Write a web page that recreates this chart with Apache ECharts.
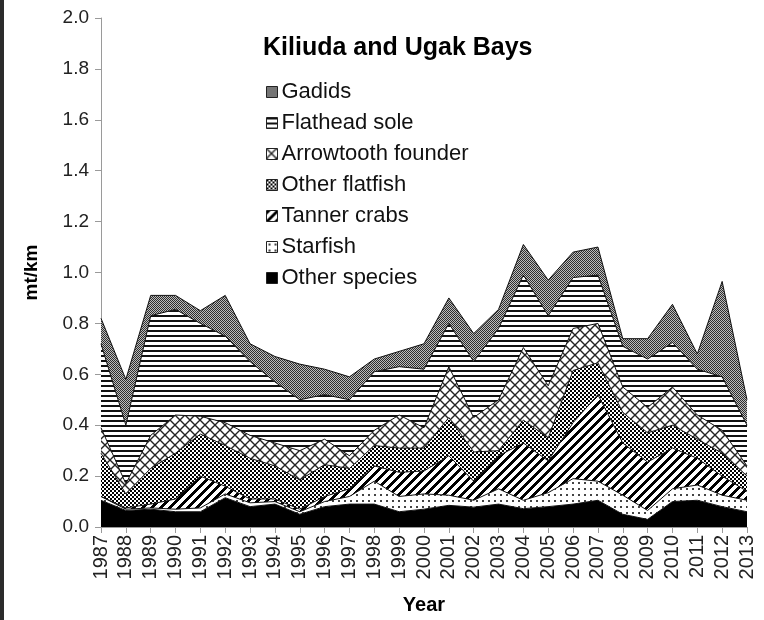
<!DOCTYPE html>
<html>
<head>
<meta charset="utf-8">
<title>Kiliuda and Ugak Bays</title>
<script src="https://cdn.jsdelivr.net/npm/echarts@6/dist/echarts.min.js"></script>
<style>
  html, body { margin: 0; padding: 0; background: #fff; }
  #chart { position: absolute; left: 0; top: 0; width: 764px; height: 620px; }
  #edge { position: absolute; left: 0; top: 0; width: 4px; height: 620px; background: #2b2b2b; }
</style>
</head>
<body>
<div id="chart"></div>
<div id="edge"></div>
<script>
// values, mt/km per year (each layer on its own, stacked by echarts)
const years = ['1987', '1988', '1989', '1990', '1991', '1992', '1993', '1994', '1995',
  '1996', '1997', '1998', '1999', '2000', '2001', '2002', '2003', '2004', '2005',
  '2006', '2007', '2008', '2009', '2010', '2011', '2012', '2013']

const otherSpecies = [0.105, 0.065, 0.07, 0.06, 0.06, 0.115, 0.08, 0.09, 0.05, 0.08, 0.09, 0.09, 0.06,
  0.07, 0.085, 0.078, 0.09, 0.072, 0.08, 0.09, 0.105, 0.05, 0.03, 0.10, 0.105, 0.08, 0.06]
const starfish = [0.015, 0.005, 0.005, 0.01, 0.015, 0.015, 0.015, 0.01, 0.01, 0.02, 0.03, 0.09, 0.06,
  0.06, 0.04, 0.027, 0.06, 0.033, 0.055, 0.10, 0.075, 0.075, 0.035, 0.05, 0.06, 0.045, 0.045]
const tannerCrabs = [0, 0.005, 0.015, 0.04, 0.125, 0.03, 0.015, 0.01, 0.01, 0.02, 0.03, 0.06, 0.095,
  0.09, 0.155, 0.075, 0.13, 0.225, 0.125, 0.22, 0.34, 0.205, 0.19, 0.16, 0.105, 0.075, 0.035]
const otherFlatfish = [0.17, 0.055, 0.14, 0.18, 0.165, 0.16, 0.16, 0.13, 0.115, 0.125, 0.08, 0.08, 0.095,
  0.09, 0.15, 0.115, 0.02, 0.09, 0.09, 0.205, 0.125, 0.12, 0.115, 0.09, 0.075, 0.09, 0.06]
const arrowtooth = [0.10, 0.04, 0.13, 0.15, 0.07, 0.09, 0.09, 0.09, 0.115, 0.10, 0.05, 0.06, 0.13,
  0.08, 0.20, 0.135, 0.20, 0.285, 0.205, 0.165, 0.155, 0.10, 0.10, 0.15, 0.095, 0.09, 0.04]
const flatheadSole = [0.33, 0.23, 0.47, 0.415, 0.365, 0.34, 0.29, 0.24, 0.20, 0.175, 0.22, 0.23, 0.19,
  0.23, 0.17, 0.22, 0.28, 0.285, 0.275, 0.20, 0.19, 0.16, 0.19, 0.175, 0.18, 0.21, 0.16]
const gadids = [0.10, 0.18, 0.08, 0.055, 0.05, 0.16, 0.07, 0.10, 0.14, 0.10, 0.09, 0.05, 0.06,
  0.10, 0.10, 0.11, 0.075, 0.12, 0.14, 0.10, 0.11, 0.03, 0.08, 0.15, 0.06, 0.375, 0.10]

const FONT = '"Liberation Sans", Arial, sans-serif'

// small canvas tiles used as fill patterns (black & white print style)
function tile(w, h, draw) {
  const c = document.createElement('canvas')
  c.width = w
  c.height = h
  const ctx = c.getContext('2d')
  ctx.fillStyle = '#fff'
  ctx.fillRect(0, 0, w, h)
  draw(ctx, w, h)
  return { image: c, repeat: 'repeat' }
}

const patterns = {
  gadids: tile(2, 2, ctx => {
    ctx.fillStyle = '#bcbcbc'
    ctx.fillRect(0, 0, 2, 2)
    ctx.fillStyle = '#2e2e2e'
    ctx.fillRect(0, 0, 1, 1)
    ctx.fillRect(1, 1, 1, 1)
  }),
  flathead: tile(4, 5, ctx => {
    ctx.fillStyle = '#111'
    ctx.fillRect(0, 0, 4, 2)
  }),
  arrowtooth: tile(10, 10, ctx => {
    ctx.strokeStyle = '#222'
    ctx.lineWidth = 1.4
    ctx.beginPath()
    ctx.moveTo(-1, -1); ctx.lineTo(11, 11)
    ctx.moveTo(-1, 11); ctx.lineTo(11, -1)
    ctx.stroke()
  }),
  otherFlatfish: tile(4, 4, ctx => {
    ctx.fillStyle = '#000'
    ctx.fillRect(0, 0, 2, 2)
    ctx.fillRect(2, 2, 2, 2)
  }),
  tanner: tile(9, 9, ctx => {
    ctx.fillStyle = '#000'
    for (let x = 0; x < 9; x++) {
      for (let y = 0; y < 9; y++) {
        if ((x + y) % 9 < 4) ctx.fillRect(x, y, 1, 1)
      }
    }
  }),
  starfish: tile(6, 6, ctx => {
    ctx.fillStyle = '#444'
    ctx.fillRect(2, 2, 2, 2)
  }),
  other: '#000'
}

const layers = [
  { name: 'Other species', data: otherSpecies, fill: patterns.other },
  { name: 'Starfish', data: starfish, fill: patterns.starfish },
  { name: 'Tanner crabs', data: tannerCrabs, fill: patterns.tanner },
  { name: 'Other flatfish', data: otherFlatfish, fill: patterns.otherFlatfish },
  { name: 'Arrowtooth founder', data: arrowtooth, fill: patterns.arrowtooth },
  { name: 'Flathead sole', data: flatheadSole, fill: patterns.flathead },
  { name: 'Gadids', data: gadids, fill: patterns.gadids }
]

let series = []
layers.map(x => {
  series.push({
    name: x.name,
    type: 'line',
    stack: 'total',
    data: x.data,
    symbol: 'none',
    smooth: false,
    lineStyle: { color: '#111', width: 1 },
    itemStyle: { color: x.fill },
    areaStyle: { color: x.fill, opacity: 1 },
    emphasis: { disabled: true }
  })
})

// legend lists the top layer first
let legendData = layers.slice().reverse().map(x => ({
  name: x.name,
  itemStyle: { color: x.fill, borderColor: '#222', borderWidth: 1 }
}))

const chart = echarts.init(document.getElementById('chart'), null, { renderer: 'canvas' })

chart.setOption({
  animation: false,
  backgroundColor: '#fff',
  title: {
    text: 'Kiliuda and Ugak Bays',
    left: 263,
    top: 36,
    padding: 0,
    textStyle: { fontFamily: FONT, fontSize: 25, fontWeight: 'bold', color: '#000' }
  },
  legend: {
    data: legendData,
    orient: 'vertical',
    left: 266,
    top: 81,
    padding: 0,
    icon: 'rect',
    itemWidth: 11,
    itemHeight: 11,
    itemGap: 9,
    selectedMode: false,
    textStyle: { fontFamily: FONT, fontSize: 22, lineHeight: 22, color: '#111', padding: [0, 0, 0, -1] }
  },
  grid: { left: 101, right: 17, top: 18, bottom: 92 },
  xAxis: {
    type: 'category',
    data: years,
    boundaryGap: false,
    name: 'Year',
    nameLocation: 'middle',
    nameGap: 68,
    nameTextStyle: { fontFamily: FONT, fontSize: 20, fontWeight: 'bold', color: '#000' },
    axisLine: { lineStyle: { color: '#9a9a9a', width: 1 } },
    axisTick: { show: true, interval: 0, length: 6, lineStyle: { color: '#9a9a9a' } },
    axisLabel: { interval: 0, rotate: 90, margin: 8, fontFamily: FONT, fontSize: 20, color: '#222' },
    splitLine: { show: false }
  },
  yAxis: {
    type: 'value',
    min: 0,
    max: 2,
    interval: 0.2,
    name: 'mt/km',
    nameLocation: 'middle',
    nameGap: 60,
    nameTextStyle: { fontFamily: FONT, fontSize: 19, fontWeight: 'bold', color: '#000' },
    axisLine: { show: true, lineStyle: { color: '#9a9a9a', width: 1 } },
    axisTick: { show: true, length: 6, lineStyle: { color: '#9a9a9a' } },
    axisLabel: { margin: 12, fontFamily: FONT, fontSize: 19, color: '#222', formatter: v => v.toFixed(1) },
    splitLine: { show: false }
  },
  series: series
})
</script>
</body>
</html>
